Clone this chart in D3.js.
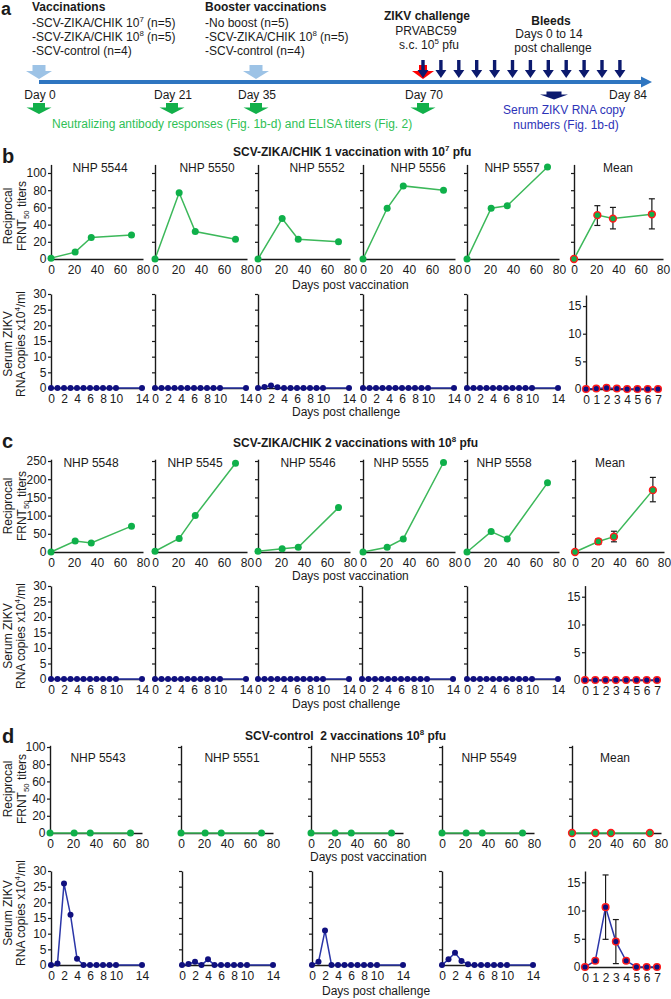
<!DOCTYPE html>
<html><head><meta charset="utf-8">
<script src="https://cdn.jsdelivr.net/npm/d3@7"></script>
<style>
body{margin:0;background:#fff}
svg{display:block}
text{font-family:"Liberation Sans",Arial,Helvetica,sans-serif}
</style>
</head><body>
<svg id="c" width="671" height="999"></svg>
<script>
// ---------------- DATA ----------------
const vacDays = [0, 21, 35, 70];
const chalDays = [0, 1, 2, 3, 4, 5, 6, 7, 8, 9, 10, 14];
const meanDays = [0, 1, 2, 3, 4, 5, 6, 7];
const vacTicks = [0, 20, 40, 60, 80];
const chalTicks = [0, 2, 4, 6, 8, 10, 14];
const titerTicks1 = [0, 20, 40, 60, 80, 100];
const titerTicks2 = [0, 50, 100, 150, 200, 250];
const rnaTicks = [0, 5, 10, 15, 20, 25, 30];
const rnaMeanTicks = [0, 5, 10, 15];

const timelineDays = [0, 21, 35, 70, 84];
const timelineLabels = ["Day 0", "Day 21", "Day 35", "Day 70", "Day 84"];
const boostDays = [0, 35];
const nabDays = [0, 21, 35, 70];

const bNames = ["NHP 5544", "NHP 5550", "NHP 5552", "NHP 5556", "NHP 5557"];
const bTiter = [[1, 8, 25, 28], [0, 77, 32, 23], [0, 47, 23, 20], [0, 59, 85, 80], [0, 59, 62, 107]];
const bTiterMean = [0, 51, 47, 52];
const bTiterLo = [0, 39, 35, 35];
const bTiterHi = [0, 62, 60, 70];
const bRNA = [
  [0, 0, 0, 0, 0, 0, 0, 0, 0, 0, 0, 0],
  [0, 0, 0, 0, 0, 0, 0, 0, 0, 0, 0, 0],
  [0, 0.3, 0.8, 0.2, 0, 0, 0, 0, 0, 0, 0, 0],
  [0, 0, 0, 0, 0, 0, 0, 0, 0, 0, 0, 0],
  [0, 0, 0, 0, 0, 0, 0, 0, 0, 0, 0, 0]];
const bRNAMean = [0, 0.1, 0.2, 0.1, 0, 0, 0, 0];

const cNames = ["NHP 5548", "NHP 5545", "NHP 5546", "NHP 5555", "NHP 5558"];
const cTiter = [[0, 30, 25, 71], [2, 37, 100, 244], [2, 9, 13, 122], [0, 13, 36, 246], [0, 56, 36, 190]];
const cTiterMean = [0, 29, 42, 170];
const cTiterLo = [0, 21, 28, 138];
const cTiterHi = [0, 36, 57, 205];
const cRNA = [
  [0, 0, 0, 0, 0, 0, 0, 0, 0, 0, 0, 0],
  [0, 0, 0, 0, 0, 0, 0, 0, 0, 0, 0, 0],
  [0, 0, 0, 0, 0, 0, 0, 0, 0, 0, 0, 0],
  [0, 0, 0, 0, 0, 0, 0, 0, 0, 0, 0, 0],
  [0, 0, 0, 0, 0, 0, 0, 0, 0, 0, 0, 0]];
const cRNAMean = [0, 0, 0, 0, 0, 0, 0, 0];

const dNames = ["NHP 5543", "NHP 5551", "NHP 5553", "NHP 5549"];
const dTiter = [[0, 0, 0, 0], [0, 0, 0, 0], [0, 0, 0, 0], [0, 0, 0, 0]];
const dTiterMean = [0, 0, 0, 0];
const dRNA = [
  [0, 0.5, 26, 16, 2, 0, 0, 0, 0, 0, 0, 0],
  [0, 0.3, 1, 0, 1.8, 0, 0, 0, 0, 0, 0, 0],
  [0, 1, 11, 0, 0, 0, 0, 0, 0, 0, 0, 0],
  [0, 1.8, 3.9, 1.3, 0.2, 0, 0, 0, 0, 0, 0, 0]];
const dRNAMean = [0, 1.1, 10.6, 4.5, 1.1, 0, 0, 0];
const dRNALo = [null, null, 4.9, 0.6, null, null, null, null];
const dRNAHi = [null, null, 16.3, 8.4, null, null, null, null];

// ---------------- STYLE ----------------
const INK = "#1a1a1a";
const GREEN_LINE = "#3cb85a", GREEN_DOT = "#0fb04a";
const NAVY_LINE = "#2b36a8", NAVY_DOT = "#10107f";
const RED = "#ff1a1a";

const svg = d3.select("#c");

function txt(g, x, y, parts, opt = {}) {
  const size = opt.size || 12;
  const t = g.append("text").attr("x", x).attr("y", y)
    .attr("font-size", size)
    .attr("font-weight", opt.bold ? "bold" : null)
    .attr("fill", opt.fill || INK)
    .attr("text-anchor", opt.anchor || "start");
  if (opt.rotate) t.attr("transform", `rotate(-90,${x},${y})`);
  let shift = 0;
  (Array.isArray(parts) ? parts : [parts]).forEach(p => {
    const [s, k] = typeof p === "string" ? [p, ""] : p;
    const target = k === "sup" ? -size * 0.38 : k === "sub" ? size * 0.25 : 0;
    const ts = t.append("tspan").text(s).attr("dy", target - shift);
    if (k) ts.attr("font-size", size * 0.66);
    shift = target;
  });
  return t;
}

function downArrow(g, cx, top, headStart, tip, sh, hh, color) {
  const pts = [[cx - sh, top], [cx + sh, top], [cx + sh, headStart], [cx + hh, headStart], [cx, tip], [cx - hh, headStart], [cx - sh, headStart]];
  g.append("polygon").attr("points", pts.map(p => p.join(",")).join(" ")).attr("fill", color);
}

// ---------------- PANEL A ----------------
const ga = svg.append("g");
txt(ga, 1, 15, "a", {size: 18, bold: true});
txt(ga, 32, 11, "Vaccinations", {bold: true});
txt(ga, 32, 27, ["-SCV-ZIKA/CHIK 10", ["7", "sup"], " (n=5)"]);
txt(ga, 32, 41, ["-SCV-ZIKA/CHIK 10", ["8", "sup"], " (n=5)"]);
txt(ga, 32, 55, "-SCV-control (n=4)");
txt(ga, 205, 11, "Booster vaccinations", {bold: true});
txt(ga, 205, 27, "-No boost (n=5)");
txt(ga, 205, 41, ["-SCV-ZIKA/CHIK 10", ["8", "sup"], " (n=5)"]);
txt(ga, 205, 55, "-SCV-control (n=4)");
txt(ga, 427, 20, "ZIKV challenge", {bold: true, anchor: "middle"});
txt(ga, 426, 35, "PRVABC59", {anchor: "middle"});
txt(ga, 429, 49, ["s.c. 10", ["5", "sup"], " pfu"], {anchor: "middle"});
txt(ga, 551, 25, "Bleeds", {bold: true, anchor: "middle"});
txt(ga, 549, 38, "Days 0 to 14", {anchor: "middle"});
txt(ga, 553, 52, "post challenge", {anchor: "middle"});

const tl = d3.scaleLinear().domain(timelineDays).range([39, 172, 256, 423, 628]);
ga.append("rect").attr("x", tl(0)).attr("y", 80).attr("width", 643 - tl(0)).attr("height", 4).attr("fill", "#2e75c0");
ga.append("polygon").attr("points", "641,76.5 652,82 641,87.5").attr("fill", "#2e75c0");
boostDays.forEach(d => downArrow(ga, tl(d), 65, 71, 79, 6.5, 13, "#9dc3e6"));
downArrow(ga, tl(70), 65, 71, 79, 4, 11, "#ff0000");
chalDays.forEach((d, i) => downArrow(ga, tl(70) + i * 17.9, 60, 70, 78, 1.7, 5.5, "#0c1a6e"));
timelineDays.forEach((d, i) => txt(ga, i === 4 ? 628 : tl(d) + 1, 99, timelineLabels[i], {anchor: "middle"}));
nabDays.forEach(d => downArrow(ga, tl(d), 103, 107.5, 114, 6, 12.5, "#12b04a"));
downArrow(ga, 554, 91.5, 94.5, 99.5, 7.5, 14, "#0c1a6e");
txt(ga, 52, 128, "Neutralizing antibody responses (Fig. 1b-d) and ELISA titers (Fig. 2)", {fill: "#2fbf55"});
txt(ga, 564, 114, "Serum ZIKV RNA copy", {fill: "#2d33b8", anchor: "middle"});
txt(ga, 566, 129, "numbers (Fig. 1b-d)", {fill: "#2d33b8", anchor: "middle"});

// ---------------- PLOT PANELS ----------------
const fmtInt = d3.format("d");
function axes(g, o) {
  const x = d3.scaleLinear().domain(o.xDomain).range([o.x0, o.x0 + o.w]);
  const y = d3.scaleLinear().domain([0, o.yMax]).range([o.y0, o.yTop]);
  const ya = d3.axisLeft(y).tickValues(o.yTicks).tickSize(3).tickPadding(1.5).tickSizeOuter(0)
    .tickFormat(o.yLabels ? fmtInt : "");
  const gy = g.append("g").attr("transform", `translate(${o.x0},0)`).call(ya);
  const xa = d3.axisBottom(x).tickValues(o.xTicks).tickSize(0).tickPadding(6.5).tickSizeOuter(0)
    .tickFormat(fmtInt);
  const gx = g.append("g").attr("transform", `translate(0,${o.y0})`).call(xa);
  [gx, gy].forEach(a => {
    a.select(".domain").attr("stroke", INK).attr("stroke-width", 1.4);
    a.selectAll(".tick line").attr("stroke", INK).attr("stroke-width", 1.2);
    a.selectAll(".tick text").attr("font-size", 12).attr("fill", INK)
      .attr("font-family", '"Liberation Sans",Arial,Helvetica,sans-serif');
  });
  return {x, y};
}

function series(g, sc, xs, ys, o) {
  const pts = xs.map((d, i) => [d, ys[i]]);
  if (o.lo) {
    xs.forEach((d, i) => {
      if (o.lo[i] == null || o.hi[i] == null || (o.lo[i] === 0 && o.hi[i] === 0)) return;
      const X = sc.x(d), y1 = sc.y(o.lo[i]), y2 = sc.y(o.hi[i]);
      g.append("line").attr("x1", X).attr("x2", X).attr("y1", y1).attr("y2", y2).attr("stroke", INK).attr("stroke-width", 1.2);
      [y1, y2].forEach(yy => g.append("line").attr("x1", X - 3).attr("x2", X + 3).attr("y1", yy).attr("y2", yy).attr("stroke", INK).attr("stroke-width", 1.2));
    });
  }
  g.append("path").datum(pts)
    .attr("d", d3.line().x(d => sc.x(d[0])).y(d => sc.y(d[1])))
    .attr("fill", "none").attr("stroke", o.line).attr("stroke-width", 1.5);
  g.selectAll(null).data(pts).join("circle")
    .attr("cx", d => sc.x(d[0])).attr("cy", d => sc.y(d[1]))
    .attr("r", o.r).attr("fill", o.fill)
    .attr("stroke", o.stroke || "none").attr("stroke-width", o.stroke ? 1.5 : 0);
}

const rows = [
  {letter: "b", letterY: 163, titleX: 233, titleY: 156,
   title: ["SCV-ZIKA/CHIK 1 vaccination with 10", ["7", "sup"], " pfu"],
   names: bNames, nameX: [100, 207, 317, 418, 512], meanNameX: 618, nameY: 172,
   titer: bTiter, tMean: bTiterMean, tLo: bTiterLo, tHi: bTiterHi,
   rna: bRNA, rMean: bRNAMean, rLo: null, rHi: null,
   top: {y0: 259, yTop: 164.4, yMax: 110, ticks: titerTicks1},
   bot: {y0: 388, yTop: 294, yMax: 30}, mbot: {y0: 389, yTop: 295, yMax: 17},
   topX: [51, 155, 258, 363, 467], mTopX: 574, botX: [51, 155, 258, 363, 467], mBotX: 586,
   vacLab: [292, 289], chalLab: [292, 416], yLabTop: 216, yLabBot: 344},
  {letter: "c", letterY: 448, titleX: 233, titleY: 447,
   title: ["SCV-ZIKA/CHIK 2 vaccinations with 10", ["8", "sup"], " pfu"],
   names: cNames, nameX: [91, 195, 308, 401, 504], meanNameX: 610, nameY: 467,
   titer: cTiter, tMean: cTiterMean, tLo: cTiterLo, tHi: cTiterHi,
   rna: cRNA, rMean: cRNAMean, rLo: null, rHi: null,
   top: {y0: 552, yTop: 459.2, yMax: 255, ticks: titerTicks2},
   bot: {y0: 679, yTop: 586, yMax: 30}, mbot: {y0: 680, yTop: 585.6, yMax: 17},
   topX: [51, 155, 258, 363, 467], mTopX: 575, botX: [51, 155, 258, 362, 467], mBotX: 585,
   vacLab: [292, 580], chalLab: [292, 708], yLabTop: 506, yLabBot: 636},
  {letter: "d", letterY: 743, titleX: 245, titleY: 740,
   title: ["SCV-control\u00a0 2 vaccinations 10", ["8", "sup"], " pfu"],
   names: dNames, nameX: [98, 232, 358, 489], meanNameX: 615, nameY: 762,
   titer: dTiter, tMean: dTiterMean, tLo: null, tHi: null,
   rna: dRNA, rMean: dRNAMean, rLo: dRNALo, rHi: dRNAHi,
   top: {y0: 833, yTop: 745.3, yMax: 102, ticks: titerTicks1},
   bot: {y0: 965, yTop: 871, yMax: 30}, mbot: {y0: 967, yTop: 871, yMax: 17},
   topX: [50, 181, 311, 442], mTopX: 572, botX: [51, 182, 312, 442], mBotX: 585,
   vacLab: [310, 861], chalLab: [322, 995], yLabTop: 789, yLabBot: 913}
];

rows.forEach(R => {
  const g = svg.append("g");
  txt(g, 2, R.letterY, R.letter, {size: 20, bold: true});
  txt(g, R.titleX, R.titleY, R.title, {bold: true});
  txt(g, 11.5, R.yLabTop, "Reciprocal", {anchor: "middle", rotate: true});
  txt(g, 26, R.yLabTop, ["FRNT", ["50", "sub"], " titers"], {anchor: "middle", rotate: true});
  txt(g, 12, R.yLabBot, "Serum ZIKV", {anchor: "middle", rotate: true});
  txt(g, 24.5, R.yLabBot, ["RNA copies x10", ["4", "sup"], "/ml"], {anchor: "middle", rotate: true});
  R.names.forEach((nm, i) => {
    const st = axes(g, {x0: R.topX[i], w: 92, xDomain: [0, 80], xTicks: vacTicks,
      y0: R.top.y0, yTop: R.top.yTop, yMax: R.top.yMax, yTicks: R.top.ticks, yLabels: i === 0});
    series(g, st, vacDays, R.titer[i], {line: GREEN_LINE, fill: GREEN_DOT, r: 3.5});
    txt(g, R.nameX[i], R.nameY, nm, {anchor: "middle"});
    const sb = axes(g, {x0: R.botX[i], w: 91, xDomain: [0, 14], xTicks: chalTicks,
      y0: R.bot.y0, yTop: R.bot.yTop, yMax: R.bot.yMax, yTicks: rnaTicks, yLabels: i === 0});
    series(g, sb, chalDays, R.rna[i], {line: NAVY_LINE, fill: NAVY_DOT, r: 3});
  });
  const mt = axes(g, {x0: R.mTopX, w: 89, xDomain: [0, 80], xTicks: vacTicks,
    y0: R.top.y0, yTop: R.top.yTop, yMax: R.top.yMax, yTicks: R.top.ticks, yLabels: false});
  series(g, mt, vacDays, R.tMean, {line: GREEN_LINE, fill: GREEN_DOT, stroke: RED, r: 3.4, lo: R.tLo, hi: R.tHi});
  txt(g, R.meanNameX, R.nameY, "Mean", {anchor: "middle"});
  const mb = axes(g, {x0: R.mBotX, w: 72, xDomain: [0, 7], xTicks: meanDays,
    y0: R.mbot.y0, yTop: R.mbot.yTop, yMax: R.mbot.yMax, yTicks: rnaMeanTicks, yLabels: true});
  series(g, mb, meanDays, R.rMean, {line: NAVY_LINE, fill: NAVY_DOT, stroke: RED, r: 3.3, lo: R.rLo, hi: R.rHi});
  txt(g, R.vacLab[0], R.vacLab[1], "Days post vaccination");
  txt(g, R.chalLab[0], R.chalLab[1], "Days post challenge");
});
</script>
</body></html>
